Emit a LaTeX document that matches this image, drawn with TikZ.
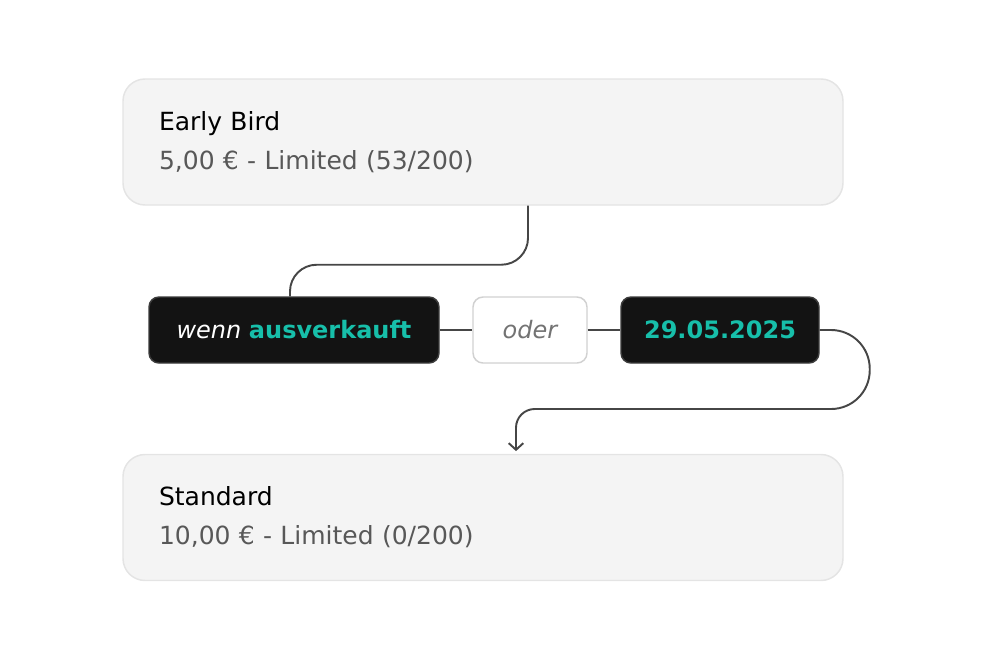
\documentclass[tikz,border=0pt]{standalone}
\usepackage{fontspec}
\setmainfont{DejaVu Sans}
\usepackage{xcolor}
\usetikzlibrary{arrows.meta}

\definecolor{tierfill}{HTML}{F4F4F4}
\definecolor{tierline}{HTML}{E4E4E4}
\definecolor{chipfill}{HTML}{131313}
\definecolor{chipline}{HTML}{3C3C3C}
\definecolor{teal}{HTML}{17BFAA}
\definecolor{subgray}{HTML}{585858}
\definecolor{wire}{HTML}{464646}

\tikzset{
  tier/.style={draw=tierline, line width=1.1pt, fill=tierfill, rounded corners=16.5pt,
    minimum width=540pt, minimum height=94.5pt, text width=486pt, align=left,
    inner sep=0pt, font=\fontsize{18.75}{29.25}\selectfont},
  chip/.style={draw=chipline, line width=1.1pt, fill=chipfill, rounded corners=7.5pt,
    minimum height=49.5pt, inner sep=0pt, font=\fontsize{18}{22}\selectfont},
  orchip/.style={draw=black!18, line width=1.1pt, fill=white, rounded corners=7.5pt,
    minimum height=49.5pt, inner sep=0pt, font=\fontsize{18}{22}\selectfont\itshape, text=black!55},
  link/.style={draw=wire, line width=1.45pt},
}

\begin{document}
\begin{tikzpicture}[x=0.75pt,y=0.75pt,yscale=-1,xscale=1]
\useasboundingbox (0,0) rectangle (990,658);

% Tiers
\node [tier] (early) at (483,142) {Early Bird\\\textcolor{subgray}{5,00 € - Limited (53/200)}};
\node [tier] (std) at (483,517.5) {Standard\\\textcolor{subgray}{10,00 € - Limited (0/200)}};

% Conditions
\node [chip, minimum width=217.5pt] (wenn) at (294,330) {\textcolor{white}{\itshape wenn} \textcolor{teal}{\bfseries ausverkauft}};
\node [orchip, minimum width=85.5pt] (oder) at (530,330) {oder};
\node [chip, minimum width=148.5pt] (date) at (720,330) {\textcolor{teal}{\bfseries 29.05.2025}};

% Connectors
\draw [link, rounded corners=20pt] ([xshift=33.75pt]early.south) -- ++(0,59) -| ([xshift=-3pt]wenn.north);
\draw [link] (wenn) -- (oder);
\draw [link] (oder) -- (date);
\draw [link, -{Straight Barb[length=5pt,width=11pt]}, shorten >=2pt, rounded corners=29pt]
  (date.east) -- ++(50,0) -- ++(0,79) [rounded corners=14pt] -| ([xshift=24.75pt]std.north);

\end{tikzpicture}
\end{document}
